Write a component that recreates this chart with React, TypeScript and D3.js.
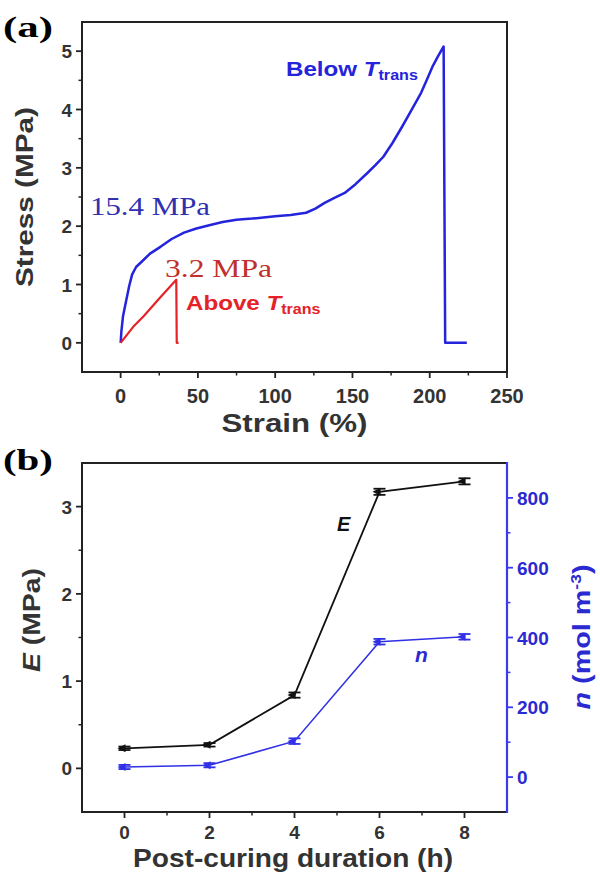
import React from 'react';
import * as d3 from 'd3';

// panel (a): stress-strain curves
const belowStrain = [0, 0.5, 1.5, 3.7, 5.5, 7.4, 10, 13.6, 19, 26, 33, 41, 49, 58, 66, 75, 85, 100, 110, 120, 126, 132, 138, 145, 152, 160, 165, 170, 176, 182, 188, 194.5, 198, 201.7, 205.5, 209, 209.5, 210, 224];
const belowStress = [0, 0.2, 0.45, 0.74, 0.97, 1.17, 1.3, 1.39, 1.53, 1.65, 1.78, 1.89, 1.96, 2.02, 2.07, 2.11, 2.13, 2.17, 2.19, 2.23, 2.3, 2.4, 2.48, 2.57, 2.72, 2.92, 3.05, 3.19, 3.43, 3.7, 3.98, 4.29, 4.5, 4.73, 4.92, 5.08, 2.5, 0, 0];
const aboveStrain = [0, 8, 15, 25, 36, 36.3, 37.5];
const aboveStress = [0, 0.27, 0.46, 0.76, 1.08, 0, 0];

const strainTicks = [0, 50, 100, 150, 200, 250];
const stressTicks = [0, 1, 2, 3, 4, 5];

// panel (b): modulus and crosslink density vs post-curing time
const hours = [0, 2, 4, 6, 8];
const modulus = [0.23, 0.27, 0.84, 3.17, 3.29];
const modulusErr = [0.02, 0.02, 0.03, 0.035, 0.035];
const density = [29, 34, 103, 388, 402];
const densityErr = [6, 6, 8, 8, 8];

const hourTicks = [0, 2, 4, 6, 8];
const modulusTicks = [0, 1, 2, 3];
const densityTicks = [0, 200, 400, 600, 800];

const SANS = '"Liberation Sans", Arial, sans-serif';
const SERIF = '"Liberation Serif", "Times New Roman", serif';
const AXIS = '#222';
const BLUE = '#2424dc';
const NBLUE = '#3030e6';
const RED = '#e52227';

const A = { left: 82, right: 507, top: 22, bottom: 372 };
const B = { left: 82, right: 507, top: 463, bottom: 812 };

const mids = (t: number[]) => t.slice(0, -1).map((v, i) => (v + t[i + 1]) / 2);

export default function App() {
  const xa = d3.scaleLinear().domain([-25, 250]).range([A.left, A.right]);
  const ya = d3.scaleLinear().domain([-0.5, 5.5]).range([A.bottom, A.top]);

  const xb = d3.scaleLinear().domain([-1, 9]).range([B.left, B.right]);
  const yb = d3.scaleLinear().domain([-0.5, 3.5]).range([B.bottom, B.top]);
  const yn = d3.scaleLinear().domain([-100, 900]).range([B.bottom, B.top]);

  const lineA = d3.line<[number, number]>().x((d) => xa(d[0])).y((d) => ya(d[1]));
  const belowPath = lineA(belowStrain.map((s, i) => [s, belowStress[i]]));
  const abovePath = lineA(aboveStrain.map((s, i) => [s, aboveStress[i]]));

  const ePath = d3.line<number>().x((_, i) => xb(hours[i])).y((d) => yb(d))(modulus);
  const nPath = d3.line<number>().x((_, i) => xb(hours[i])).y((d) => yn(d))(density);

  const stressMinor = mids(stressTicks);
  const strainMinor = [-25, ...mids(strainTicks), 250].filter((v) => v > -25 && v < 250);
  const hourMinor = mids(hourTicks);
  const modulusMinor = mids(modulusTicks);
  const densityMinor = [-100, ...mids(densityTicks)].filter((v) => v > -100);

  const marker = (x: number, y: number, err: number, color: string, key: string) => (
    <g key={key} stroke={color} fill={color}>
      <line x1={x} x2={x} y1={y - err} y2={y + err} strokeWidth={1.5} />
      <line x1={x - 6} x2={x + 6} y1={y - err} y2={y - err} strokeWidth={1.8} />
      <line x1={x - 6} x2={x + 6} y1={y + err} y2={y + err} strokeWidth={1.8} />
      <path d={`M${x - 7},${y} L${x + 1},${y - 4} L${x + 1},${y + 4} Z`} stroke="none" />
    </g>
  );

  return (
    <div style={{ position: 'fixed', left: 0, top: 0 }}>
      <svg width={600} height={880} style={{ display: 'block', background: '#fff' }}>
        {/* ---------- panel (a) ---------- */}
        <text x={3} y={37} fontFamily={SERIF} fontWeight="bold" fontSize={30} textLength={50} lengthAdjust="spacingAndGlyphs">(a)</text>

        <path d={belowPath || ''} fill="none" stroke={BLUE} strokeWidth={2.5} strokeLinejoin="round" />
        <path d={abovePath || ''} fill="none" stroke={RED} strokeWidth={2.2} strokeLinejoin="round" />

        {/* frame */}
        <path d={`M${A.left},${A.bottom} V${A.top} H${A.right} V${A.bottom} Z`} fill="none" stroke={AXIS} strokeWidth={2} />

        {stressTicks.map((t) => (
          <g key={'sy' + t}>
            <line x1={A.left - 6} x2={A.left} y1={ya(t)} y2={ya(t)} stroke={AXIS} strokeWidth={1.8} />
            <text x={A.left - 10} y={ya(t) + 7} textAnchor="end" fontFamily={SANS} fontWeight="bold" fontSize={19} fill="#333">{t}</text>
          </g>
        ))}
        {stressMinor.map((t) => (
          <line key={'sym' + t} x1={A.left - 3.5} x2={A.left} y1={ya(t)} y2={ya(t)} stroke={AXIS} strokeWidth={1.5} />
        ))}
        {strainTicks.map((t) => (
          <g key={'sx' + t}>
            <line x1={xa(t)} x2={xa(t)} y1={A.bottom} y2={A.bottom + 6} stroke={AXIS} strokeWidth={1.8} />
            <text x={xa(t)} y={A.bottom + 31} textAnchor="middle" fontFamily={SANS} fontWeight="bold" fontSize={20} fill="#333">{t}</text>
          </g>
        ))}
        {strainMinor.map((t) => (
          <line key={'sxm' + t} x1={xa(t)} x2={xa(t)} y1={A.bottom} y2={A.bottom + 3.5} stroke={AXIS} strokeWidth={1.5} />
        ))}

        <text x={(A.left + A.right) / 2} y={432} textAnchor="middle" fontFamily={SANS} fontWeight="bold" fontSize={25} fill="#333" textLength={146} lengthAdjust="spacingAndGlyphs">Strain (%)</text>
        <text transform={`translate(33,${(A.top + A.bottom) / 2}) rotate(-90)`} textAnchor="middle" fontFamily={SANS} fontWeight="bold" fontSize={24} fill="#333" textLength={180} lengthAdjust="spacingAndGlyphs">Stress (MPa)</text>

        <g transform="translate(286,76) scale(1.15,1)">
          <text x={0} y={0} fontFamily={SANS} fontWeight="bold" fontSize={21} fill={BLUE}>
            Below <tspan fontStyle="italic">T</tspan><tspan fontSize={14} dy={4}>trans</tspan>
          </text>
        </g>
        <text x={90} y={215} fontFamily={SERIF} fontSize={25} fill="#3030b0" textLength={120} lengthAdjust="spacingAndGlyphs">15.4 MPa</text>
        <text x={165} y={277} fontFamily={SERIF} fontSize={25} fill="#c0302c" textLength={107} lengthAdjust="spacingAndGlyphs">3.2 MPa</text>
        <g transform="translate(186,310) scale(1.15,1)">
          <text x={0} y={0} fontFamily={SANS} fontWeight="bold" fontSize={21} fill={RED}>
            Above <tspan fontStyle="italic">T</tspan><tspan fontSize={14} dy={4}>trans</tspan>
          </text>
        </g>

        {/* ---------- panel (b) ---------- */}
        <text x={3} y={470} fontFamily={SERIF} fontWeight="bold" fontSize={30} textLength={50} lengthAdjust="spacingAndGlyphs">(b)</text>

        <path d={ePath || ''} fill="none" stroke="#111" strokeWidth={1.8} />
        <path d={nPath || ''} fill="none" stroke={NBLUE} strokeWidth={1.6} />
        {hours.map((h, i) => marker(xb(h), yb(modulus[i]), yb(0) - yb(modulusErr[i]), '#111', 'e' + h))}
        {hours.map((h, i) => marker(xb(h), yn(density[i]), yn(0) - yn(densityErr[i]), NBLUE, 'n' + h))}

        {/* frame */}
        <path d={`M${B.right},${B.bottom} H${B.left} V${B.top} H${B.right}`} fill="none" stroke={AXIS} strokeWidth={2} />
        <line x1={B.right} x2={B.right} y1={B.top - 1} y2={B.bottom + 1} stroke="#3a3af0" strokeWidth={2.2} />

        {modulusTicks.map((t) => (
          <g key={'my' + t}>
            <line x1={B.left - 6} x2={B.left} y1={yb(t)} y2={yb(t)} stroke={AXIS} strokeWidth={1.8} />
            <text x={B.left - 10} y={yb(t) + 7} textAnchor="end" fontFamily={SANS} fontWeight="bold" fontSize={19} fill="#333">{t}</text>
          </g>
        ))}
        {modulusMinor.map((t) => (
          <line key={'mym' + t} x1={B.left - 3.5} x2={B.left} y1={yb(t)} y2={yb(t)} stroke={AXIS} strokeWidth={1.5} />
        ))}
        {densityTicks.map((t) => (
          <g key={'ny' + t}>
            <line x1={B.right} x2={B.right + 6} y1={yn(t)} y2={yn(t)} stroke="#3a3af0" strokeWidth={1.8} />
            <text x={B.right + 10} y={yn(t) + 7} fontFamily={SANS} fontWeight="bold" fontSize={19} fill="#2a2ad0">{t}</text>
          </g>
        ))}
        {densityMinor.map((t) => (
          <line key={'nym' + t} x1={B.right} x2={B.right + 3.5} y1={yn(t)} y2={yn(t)} stroke="#3a3af0" strokeWidth={1.5} />
        ))}
        {hourTicks.map((t) => (
          <g key={'hx' + t}>
            <line x1={xb(t)} x2={xb(t)} y1={B.bottom} y2={B.bottom + 6} stroke={AXIS} strokeWidth={1.8} />
            <text x={xb(t)} y={B.bottom + 27} textAnchor="middle" fontFamily={SANS} fontWeight="bold" fontSize={19} fill="#333">{t}</text>
          </g>
        ))}
        {hourMinor.map((t) => (
          <line key={'hxm' + t} x1={xb(t)} x2={xb(t)} y1={B.bottom} y2={B.bottom + 3.5} stroke={AXIS} strokeWidth={1.5} />
        ))}

        <text x={293} y={867} textAnchor="middle" fontFamily={SANS} fontWeight="bold" fontSize={25} fill="#333" textLength={320} lengthAdjust="spacingAndGlyphs">Post-curing duration (h)</text>
        <text transform="translate(40,620) rotate(-90)" textAnchor="middle" fontFamily={SANS} fontWeight="bold" fontSize={23} fill="#333" textLength={104} lengthAdjust="spacingAndGlyphs">
          <tspan fontStyle="italic">E</tspan> (MPa)
        </text>
        <text transform="translate(590,637) rotate(-90)" textAnchor="middle" fontFamily={SANS} fontWeight="bold" fontSize={23} fill="#2a2ad0" textLength={145} lengthAdjust="spacingAndGlyphs">
          <tspan fontStyle="italic">n</tspan> (mol m<tspan fontSize={14} dy={-9}>-3</tspan><tspan dy={9}>)</tspan>
        </text>

        <text x={337} y={531} fontFamily={SANS} fontWeight="bold" fontStyle="italic" fontSize={20} fill="#111">E</text>
        <text x={415} y={662} fontFamily={SANS} fontWeight="bold" fontStyle="italic" fontSize={21} fill="#2a2ad0">n</text>
      </svg>
    </div>
  );
}
